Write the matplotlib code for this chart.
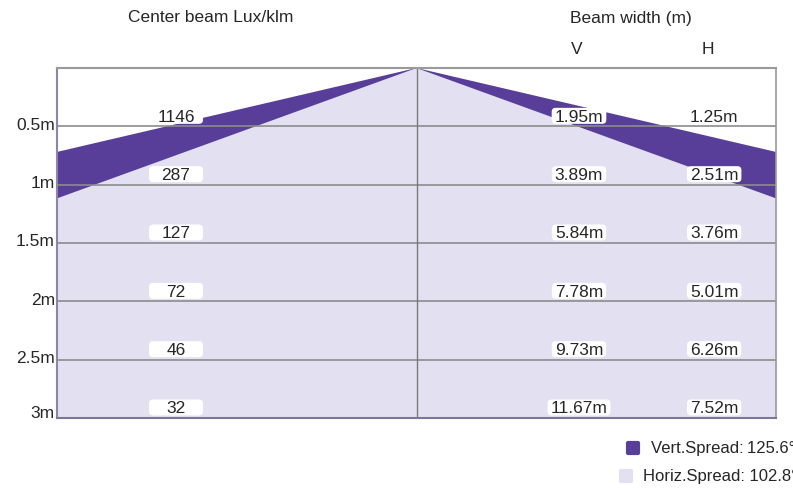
import numpy as np
import matplotlib.pyplot as plt
import matplotlib.transforms as mtransforms
from matplotlib.patches import FancyBboxPatch
from matplotlib.lines import Line2D
from matplotlib.markers import MarkerStyle

plt.rcParams['font.family'] = ['Liberation Sans', 'DejaVu Sans']

# data
depths = [0.5, 1.0, 1.5, 2.0, 2.5, 3.0]
depth_labels = ['0.5m', '1m', '1.5m', '2m', '2.5m', '3m']
lux = [1146, 287, 127, 72, 46, 32]
width_v = [1.95, 3.89, 5.84, 7.78, 9.73, 11.67]
width_h = [1.25, 2.51, 3.76, 5.01, 6.26, 7.52]
vert_spread = 125.6
horiz_spread = 102.8

DARK = '#583e98'
LIGHT = '#e2e0f1'
TXT = '#262626'
FS = 12.5

fig = plt.figure(figsize=(7.93, 4.88), dpi=100)
ax = fig.add_axes([57 / 793, 70 / 488, 719 / 793, 350 / 488])
half = 1.4
ax.set_xlim(-half, half)
ax.set_ylim(3, 0)

tv = np.tan(np.radians(vert_spread / 2))
th = np.tan(np.radians(horiz_spread / 2))
d = np.array([0, 3.0])
ax.fill_betweenx(d, -d * tv, d * tv, color=DARK, lw=0, zorder=1)
ax.fill_betweenx(d, -d * th, d * th, color=LIGHT, lw=0, zorder=1.5)

ax.hlines(depths[:-1], -half, half, color='#8c8c8c', lw=1.2, zorder=2)
ax.axvline(0, color='#7a7a7a', lw=1, zorder=2)

ax.set_xticks([])
ax.set_yticks([])
ax.spines['top'].set_color('#9a9a9a')
ax.spines['top'].set_linewidth(1.5)
ax.spines['left'].set_color('#8a88a8')
ax.spines['left'].set_linewidth(1.5)
ax.spines['bottom'].set_color('#7a7896')
ax.spines['bottom'].set_linewidth(1.5)
ax.spines['right'].set_color('#9a9a9a')
ax.spines['right'].set_linewidth(1.2)

blend = mtransforms.blended_transform_factory(ax.transAxes, ax.transData)
renderer = fig.canvas.get_renderer()


def label_box(xf, depth, text, min_w=0):
    t = ax.text(xf, depth - 0.039, text, transform=blend, ha='center',
                va='baseline', fontsize=FS, color=TXT, zorder=4)
    w = max(t.get_window_extent(renderer).width + 6, min_w)
    cx, cy = blend.transform((xf, depth))
    cy = cy + 10.5
    box = FancyBboxPatch((cx - w / 2, cy - 8), w, 16,
                         boxstyle='round,pad=0,rounding_size=4',
                         transform=mtransforms.IdentityTransform(),
                         fc='white', ec='none', zorder=3)
    ax.add_patch(box)


for dep, lab, lx, wv, wh in zip(depths, depth_labels, lux, width_v, width_h):
    label_box(0.1655, dep, str(lx), min_w=54)
    label_box(0.726, dep, f'{wv:.2f}m')
    label_box(0.914, dep, f'{wh:.2f}m')
    ax.text(-0.003, min(dep + 0.03, 3.0), lab, transform=blend, ha='right',
            va='baseline', fontsize=FS, color=TXT)

fig.text(211 / 793, 1 - 18 / 488, 'Center beam Lux/klm', ha='center', va='center',
         fontsize=FS, color=TXT)
fig.text(631 / 793, 1 - 18 / 488, 'Beam width (m)', ha='center', va='center',
         fontsize=FS, color=TXT)
fig.text(577 / 793, 1 - 50 / 488, 'V', ha='center', va='center', fontsize=FS, color=TXT)
fig.text(708 / 793, 1 - 50 / 488, 'H', ha='center', va='center', fontsize=FS, color=TXT)

sq = MarkerStyle('s', joinstyle='round')
fig.add_artist(Line2D([633 / 793], [1 - 448 / 488], marker=sq, markersize=6.5,
                      markeredgewidth=3, color=DARK, transform=fig.transFigure))
fig.add_artist(Line2D([626 / 793], [1 - 476 / 488], marker=sq, markersize=6.5,
                      markeredgewidth=3, color=LIGHT, transform=fig.transFigure))
fig.text(651 / 793, 1 - 448 / 488, f'Vert.Spread:\u2009{vert_spread}°', va='center',
         fontsize=12, color=TXT, family=['Liberation Sans', 'DejaVu Sans'])
fig.text(643 / 793, 1 - 476 / 488, f'Horiz.Spread: {horiz_spread}°', va='center',
         fontsize=12, color=TXT)

fig.savefig('out.png', dpi=100)
